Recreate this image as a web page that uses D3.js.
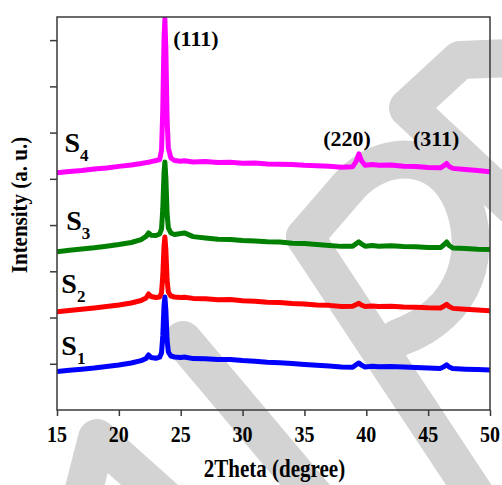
<!DOCTYPE html>
<html>
<head>
<meta charset="utf-8">
<script src="https://cdn.jsdelivr.net/npm/d3@7"></script>
<style>
  body { margin: 0; background: #fff; }
  svg { display: block; }
  text { font-family: "Liberation Serif", "Times New Roman", serif; font-weight: bold; fill: #000; }
</style>
</head>
<body>
<svg id="chart" width="502" height="485"></svg>
<script>
// 2theta grid shared by all four patterns
var twoTheta = [15,16,17,18,19,20,21,21.8,22.2,22.4,22.6,23.0,23.3,23.45,23.55,23.65,23.72,23.8,23.9,24.0,24.2,24.5,
  25,25.3,26,27,28,29,30,31,32,33,34,35,36,37,38,38.9,39.2,39.4,39.6,39.9,40.5,41,42,43,44,45,46.0,46.3,46.5,46.7,47.0,48,49,50];

var s1 = [833,859,883,908,939,973,1017,1069,1114,1190,1136,1120,1142,1237,1601,2250,2444,2163,1514,1255,1168,1146,
  1136,1146,1112,1107,1090,1094,1069,1056,1034,1021,1004,984,969,952,932,926,984,1017,973,930,945,934,941,930,921,908,900,941,978,930,895,883,874,865];
var s2 = [2126,2152,2178,2206,2237,2271,2314,2368,2423,2509,2455,2433,2444,2535,2898,3547,3742,3461,2812,2552,2466,2444,
  2433,2440,2414,2405,2384,2388,2362,2353,2332,2323,2301,2293,2273,2263,2241,2243,2282,2308,2271,2237,2250,2237,2243,2228,2224,2211,2206,2250,2284,2239,2198,2180,2163,2148];
var s3 = [3424,3457,3482,3508,3541,3578,3623,3686,3753,3829,3781,3774,3807,3915,4348,5126,5364,5018,4239,3937,3829,3796,
  3816,3830,3750,3720,3694,3686,3664,3655,3638,3634,3608,3599,3580,3560,3539,3541,3601,3638,3591,3543,3556,3541,3552,3534,3530,3517,3513,3580,3634,3558,3504,3491,3478,3472];
var s4 = [5133,5159,5178,5213,5234,5269,5299,5330,5351,5358,5373,5395,5418,5624,6489,8003,8457,7787,6273,5667,5451,5397,
  5382,5390,5364,5373,5351,5356,5336,5343,5321,5315,5308,5291,5282,5271,5252,5261,5386,5542,5397,5295,5312,5295,5299,5273,5269,5247,5239,5289,5332,5267,5226,5200,5178,5154];

var seriesNames = ['S1','S2','S3','S4'];
var seriesColors = ['#0000ff','#ff0000','#008000','#ff00ff'];
// where each sample label sits (2theta, intensity of its baseline)
var nameX = [15.35, 15.35, 15.75, 15.6];
var nameY = [1190, 2530, 3890, 5570];

var xTicks = [15,20,25,30,35,40,45,50];
var peakLabels = ['(111)','(220)','(311)'];
var peakLabelX = [24.4, 38.45, 45.65];
var peakLabelY = [7880, 5720, 5720];

var width = 502, height = 485;
var margin = { top: 17, right: 12, bottom: 75, left: 57 };

var svg = d3.select('#chart');

// background watermark
var watermark = [
  'M80,505 L97,438 L172,505',
  'M183,340 L322,505',
  'M305,237 L482,505',
  'M305,237 L350,185 C385,148 440,150 462,200 C482,248 470,312 398,338',
  'M512,58 L460,60 L408,108 L512,205'
];
svg.append('g')
  .selectAll('path')
  .data(watermark)
  .enter().append('path')
  .attr('d', function(d){ return d })
  .style('fill', 'none')
  .style('stroke', '#d3d3d3')
  .style('stroke-width', 38)
  .style('stroke-linecap', 'round')
  .style('stroke-linejoin', 'round');

var x = d3.scaleLinear()
  .domain([15, 50])
  .range([margin.left, width - margin.right]);

var y = d3.scaleLinear()
  .domain([0, 8500])
  .range([height - margin.bottom, margin.top]);

svg.append('clipPath')
  .attr('id', 'plot-clip')
  .append('rect')
  .attr('x', margin.left)
  .attr('y', margin.top)
  .attr('width', width - margin.left - margin.right)
  .attr('height', height - margin.top - margin.bottom);

var line = d3.line()
  .x(function(d){ return x(d[0]) })
  .y(function(d){ return y(d[1]) });

var allSeries = [s1, s2, s3, s4];

svg.append('g')
  .attr('clip-path', 'url(#plot-clip)')
  .selectAll('path')
  .data(allSeries)
  .enter().append('path')
  .attr('d', function(s){ return line(twoTheta.map(function(t, i){ return [t, s[i]] })) })
  .style('fill', 'none')
  .style('stroke', function(d, i){ return seriesColors[i] })
  .style('stroke-width', 5)
  .style('stroke-linejoin', 'round');

// frame
var axisColor = '#3a3a3a';
svg.append('rect')
  .attr('x', margin.left)
  .attr('y', margin.top)
  .attr('width', width - margin.left - margin.right)
  .attr('height', height - margin.top - margin.bottom)
  .style('fill', 'none')
  .style('stroke', axisColor)
  .style('stroke-width', 1.5);

// x axis: major + minor ticks, labels drawn separately (slightly tall type)
var xMinor = d3.range(17.5, 50, 5);
var gx = svg.append('g')
  .attr('transform', 'translate(0,' + (height - margin.bottom) + ')');
gx.call(d3.axisBottom(x).tickValues(xMinor).tickSize(4).tickFormat(''));
gx.call(d3.axisBottom(x).tickValues(xTicks).tickSize(6).tickFormat(''));
gx.selectAll('.domain').remove();
gx.selectAll('line').style('stroke', axisColor).style('stroke-width', 1.5);

svg.append('g')
  .selectAll('text')
  .data(xTicks)
  .enter().append('text')
  .attr('transform', function(d){ return 'translate(' + x(d) + ',442) scale(1,1.12)' })
  .attr('text-anchor', 'middle')
  .style('font-size', '20px')
  .text(function(d){ return d });

// y axis: unlabelled ticks
var yMajor = d3.range(1000, 8001, 1000);
var yMinor = d3.range(500, 8501, 1000);
var gy = svg.append('g')
  .attr('transform', 'translate(' + margin.left + ',0)');
gy.call(d3.axisLeft(y).tickValues(yMinor).tickSize(4).tickFormat(''));
gy.call(d3.axisLeft(y).tickValues(yMajor).tickSize(7).tickFormat(''));
gy.selectAll('.domain').remove();
gy.selectAll('line').style('stroke', axisColor).style('stroke-width', 1.5);

// axis titles
svg.append('text')
  .attr('transform', 'translate(' + ((margin.left + width - margin.right) / 2 + 1) + ',477) scale(1,1.2)')
  .attr('text-anchor', 'middle')
  .style('font-size', '21px')
  .text('2Theta (degree)');

svg.append('text')
  .attr('transform', 'translate(27,205) rotate(-90) scale(1,1.12)')
  .attr('text-anchor', 'middle')
  .style('font-size', '21px')
  .text('Intensity (a. u.)');

// reflection labels
svg.append('g')
  .selectAll('text')
  .data(peakLabels)
  .enter().append('text')
  .attr('x', function(d, i){ return x(peakLabelX[i]) })
  .attr('y', function(d, i){ return y(peakLabelY[i]) })
  .attr('text-anchor', function(d, i){ return i == 0 ? 'start' : 'middle' })
  .style('font-size', '22px')
  .text(function(d){ return d });

// sample labels with subscripts
var names = svg.append('g')
  .selectAll('text')
  .data(seriesNames)
  .enter().append('text')
  .attr('x', function(d, i){ return x(nameX[i]) })
  .attr('y', function(d, i){ return y(nameY[i]) })
  .style('font-size', '28px');
names.append('tspan').text('S');
names.append('tspan')
  .attr('dy', 9)
  .style('font-size', '17px')
  .text(function(d){ return d.slice(1) });
</script>
</body>
</html>
